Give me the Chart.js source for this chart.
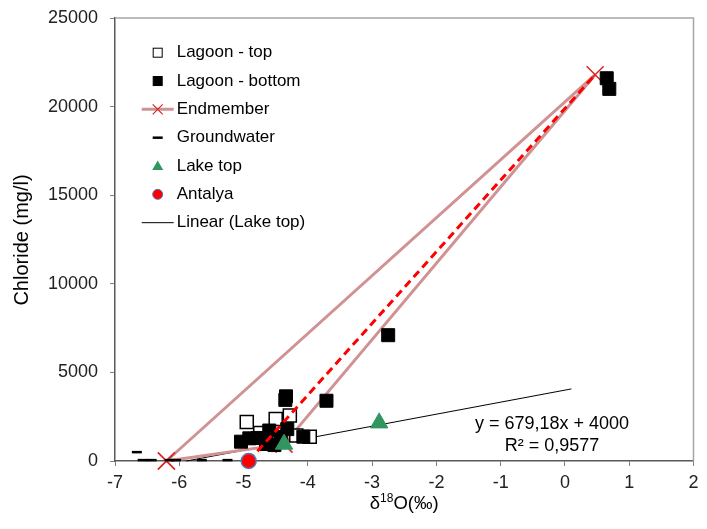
<!DOCTYPE html>
<html lang="en">
<head>
<meta charset="UTF-8">
<title>Chloride vs d18O</title>
<script src="https://cdn.jsdelivr.net/npm/chart.js"></script>
<style>
    body {
      margin: 0;
      background: #fff;
    }
</style>
</head>
<body>
<canvas id="chart" width="707" height="529"></canvas>

<script>
    // values: x = d18O (permil), y = chloride (mg/l)
    const lagoonTopX = [-4.95, -4.50, -4.28, -4.74, -4.18, -3.97, -4.62, -4.45];
    const lagoonTopY = [2200, 2370, 2570, 1580, 1440, 1370, 1250, 1150];

    const lagoonBottomX = [0.65, 0.69, -2.75, -3.71, -4.34, -4.35, -5.04, -4.91, -4.78, -4.60, -4.32, -4.07, -4.65, -4.52, -4.42];
    const lagoonBottomY = [21600, 21000, 7100, 3400, 3650, 3450, 1090, 1280, 1300, 1720, 1800, 1370, 960, 900, 1350];

    const endmemberX = [-6.2, 0.47, -4.37, -6.2];
    const endmemberY = [0, 21800, 950, 0];

    const groundwaterX = [-6.66, -6.57, -6.43, -6.15, -6.05, -5.65, -5.25];
    const groundwaterY = [500, 50, 50, 50, 50, 50, 50];

    const lakeTopX = [-4.37, -2.89];
    const lakeTopY = [950, 2150];

    const antalyaX = [-4.92];
    const antalyaY = [0];

    // mixing line Antalya -> endmember (red dashed)
    const mixX = [-4.92, 0.47];
    const mixY = [0, 21800];

    // Linear (Lake top): y = 679,18x + 4000, drawn between these ends
    const trendX = [-5.89, 0.1];
    const trendY = [0, 4068];

    const xTicks = [-7, -6, -5, -4, -3, -2, -1, 0, 1, 2];
    const yTicks = [0, 5000, 10000, 15000, 20000, 25000];

    const legendNames = ['Lagoon - top', 'Lagoon - bottom', 'Endmember', 'Groundwater', 'Lake top', 'Antalya', 'Linear (Lake top)'];

    const FONT = '"Liberation Sans", Arial, sans-serif';
    const PINK = 'rgb(208, 146, 146)';
    const XRED = '#dc2424';
    const GREEN = '#31955f';

    const pts = (xs, ys) => xs.map((x, i) => ({ x: x, y: ys[i] }));

    // legend, axis titles, trendline label and plot border
    const extras = {
      id: 'extras',
      afterDraw(chart) {
        const ctx = chart.ctx;
        const area = chart.chartArea;
        ctx.save();

        // top and right frame
        ctx.strokeStyle = '#a6a6a6';
        ctx.lineWidth = 1.5;
        ctx.beginPath();
        ctx.moveTo(area.left, area.top);
        ctx.lineTo(area.right, area.top);
        ctx.lineTo(area.right, area.bottom);
        ctx.stroke();

        // legend
        ctx.font = '17px ' + FONT;
        ctx.fillStyle = '#000';
        ctx.textBaseline = 'middle';
        ctx.textAlign = 'left';
        const sx = 157.7;
        legendNames.forEach((name, i) => {
          const y = 52.7 + i * 28.33;
          ctx.save();
          if (i === 0 || i === 1) {
            ctx.fillStyle = i === 0 ? '#fff' : '#000';
            ctx.fillRect(sx - 4.5, y - 4.5, 9, 9);
            ctx.strokeStyle = '#000';
            ctx.lineWidth = 1;
            ctx.strokeRect(sx - 4.5, y - 4.5, 9, 9);
          } else if (i === 2) {
            ctx.strokeStyle = PINK;
            ctx.lineWidth = 3;
            ctx.beginPath();
            ctx.moveTo(sx - 16, y);
            ctx.lineTo(sx + 16, y);
            ctx.stroke();
            ctx.strokeStyle = XRED;
            ctx.lineWidth = 1.2;
            ctx.beginPath();
            ctx.moveTo(sx - 5, y - 5);
            ctx.lineTo(sx + 5, y + 5);
            ctx.moveTo(sx - 5, y + 5);
            ctx.lineTo(sx + 5, y - 5);
            ctx.stroke();
          } else if (i === 3) {
            ctx.strokeStyle = '#000';
            ctx.lineWidth = 2.5;
            ctx.beginPath();
            ctx.moveTo(sx - 5, y);
            ctx.lineTo(sx + 5, y);
            ctx.stroke();
          } else if (i === 4) {
            ctx.fillStyle = GREEN;
            ctx.beginPath();
            ctx.moveTo(sx, y - 5.5);
            ctx.lineTo(sx + 5.5, y + 4);
            ctx.lineTo(sx - 5.5, y + 4);
            ctx.closePath();
            ctx.fill();
          } else if (i === 5) {
            ctx.fillStyle = '#ff0000';
            ctx.strokeStyle = '#4a7ebb';
            ctx.lineWidth = 1;
            ctx.beginPath();
            ctx.arc(sx, y, 5, 0, Math.PI * 2);
            ctx.fill();
            ctx.stroke();
          } else {
            ctx.strokeStyle = '#000';
            ctx.lineWidth = 1;
            ctx.beginPath();
            ctx.moveTo(sx - 16, y);
            ctx.lineTo(sx + 16, y);
            ctx.stroke();
          }
          ctx.restore();
          ctx.fillText(name, 176.7, y);
        });

        // trendline label
        ctx.font = '18px ' + FONT;
        ctx.textAlign = 'center';
        ctx.fillText('y = 679,18x + 4000', 552, 424);
        ctx.fillText('R² = 0,9577', 552, 446);

        // y title
        ctx.save();
        ctx.font = '20px ' + FONT;
        ctx.translate(22, 240);
        ctx.rotate(-Math.PI / 2);
        ctx.fillText('Chloride (mg/l)', 0, 0);
        ctx.restore();

        // x title with superscript 18
        const big = '18.5px ' + FONT;
        const small = '12px ' + FONT;
        ctx.textAlign = 'left';
        ctx.font = big;
        const w1 = ctx.measureText('δ').width;
        const w3 = ctx.measureText('O(‰)').width;
        ctx.font = small;
        const w2 = ctx.measureText('18').width;
        let x0 = (area.left + area.right) / 2 - (w1 + w2 + w3) / 2;
        const yb = 504;
        ctx.font = big;
        ctx.fillText('δ', x0, yb);
        ctx.font = small;
        ctx.fillText('18', x0 + w1, yb - 5);
        ctx.font = big;
        ctx.fillText('O(‰)', x0 + w1 + w2, yb);

        ctx.restore();
      }
    };

    const ctx = document.getElementById('chart').getContext('2d');
    new Chart(ctx, {
      type: 'scatter',
      data: {
        datasets: [
          {
            label: 'Linear (Lake top)',
            data: pts(trendX, trendY),
            showLine: true,
            borderColor: '#000',
            borderWidth: 1,
            pointRadius: 0,
            order: 11
          },
          {
            label: 'Endmember',
            data: pts(endmemberX, endmemberY),
            showLine: true,
            borderColor: PINK,
            borderWidth: 3,
            pointStyle: 'crossRot',
            pointRadius: 12,
            pointBorderColor: XRED,
            pointBorderWidth: 1.5,
            order: 10
          },
          {
            label: 'Lagoon - top',
            data: pts(lagoonTopX, lagoonTopY),
            pointStyle: 'rect',
            pointRadius: 9.2,
            backgroundColor: '#fff',
            borderColor: '#000',
            borderWidth: 1.5,
            order: 9
          },
          {
            label: 'Lagoon - bottom',
            data: pts(lagoonBottomX, lagoonBottomY),
            pointStyle: 'rect',
            pointRadius: 9.2,
            backgroundColor: '#000',
            borderColor: '#000',
            borderWidth: 1,
            order: 8
          },
          {
            label: 'Groundwater',
            data: pts(groundwaterX, groundwaterY),
            pointStyle: 'line',
            pointRadius: 5,
            borderColor: '#000',
            borderWidth: 2.5,
            order: 7
          },
          {
            label: 'mix',
            data: pts(mixX, mixY),
            showLine: true,
            borderColor: '#ff0000',
            borderWidth: 3,
            borderDash: [8, 5],
            pointRadius: 0,
            order: 4
          },
          {
            label: 'Lake top',
            data: pts(lakeTopX, lakeTopY),
            pointStyle: 'triangle',
            pointRadius: 10,
            backgroundColor: GREEN,
            borderColor: GREEN,
            borderWidth: 1,
            order: 2
          },
          {
            label: 'Antalya',
            data: pts(antalyaX, antalyaY),
            pointStyle: 'circle',
            pointRadius: 7.5,
            backgroundColor: '#ff0000',
            borderColor: '#4a7ebb',
            borderWidth: 1.5,
            order: 1
          }
        ].map(d => Object.assign({ clip: false }, d))
      },
      options: {
        responsive: false,
        animation: false,
        events: [],
        layout: { padding: { top: 18, right: 3, left: 0, bottom: 0 } },
        plugins: {
          legend: { display: false },
          tooltip: { enabled: false }
        },
        scales: {
          x: {
            type: 'linear',
            min: -7,
            max: 2,
            afterBuildTicks: s => { s.ticks = xTicks.map(v => ({ value: v })); },
            afterFit: s => { s.height = 68; s.paddingLeft = 0; s.paddingRight = 0; },
            ticks: {
              color: '#222',
              font: { size: 18, family: FONT },
              padding: 6,
              autoSkip: false,
              maxRotation: 0,
              callback: v => String(v)
            },
            grid: { drawOnChartArea: false, tickLength: 5, color: '#7f7f7f' },
            border: { color: '#595959', width: 1.5 }
          },
          y: {
            min: 0,
            max: 25000,
            afterBuildTicks: s => { s.ticks = yTicks.map(v => ({ value: v })); },
            afterFit: s => { s.width = 115; s.paddingTop = 0; s.paddingBottom = 0; },
            ticks: {
              color: '#222',
              font: { size: 18, family: FONT },
              padding: 12,
              callback: v => String(v)
            },
            grid: { drawOnChartArea: false, tickLength: 5, color: '#7f7f7f' },
            border: { color: '#595959', width: 1.5 }
          }
        }
      },
      plugins: [extras]
    });
</script>
</body>
</html>
